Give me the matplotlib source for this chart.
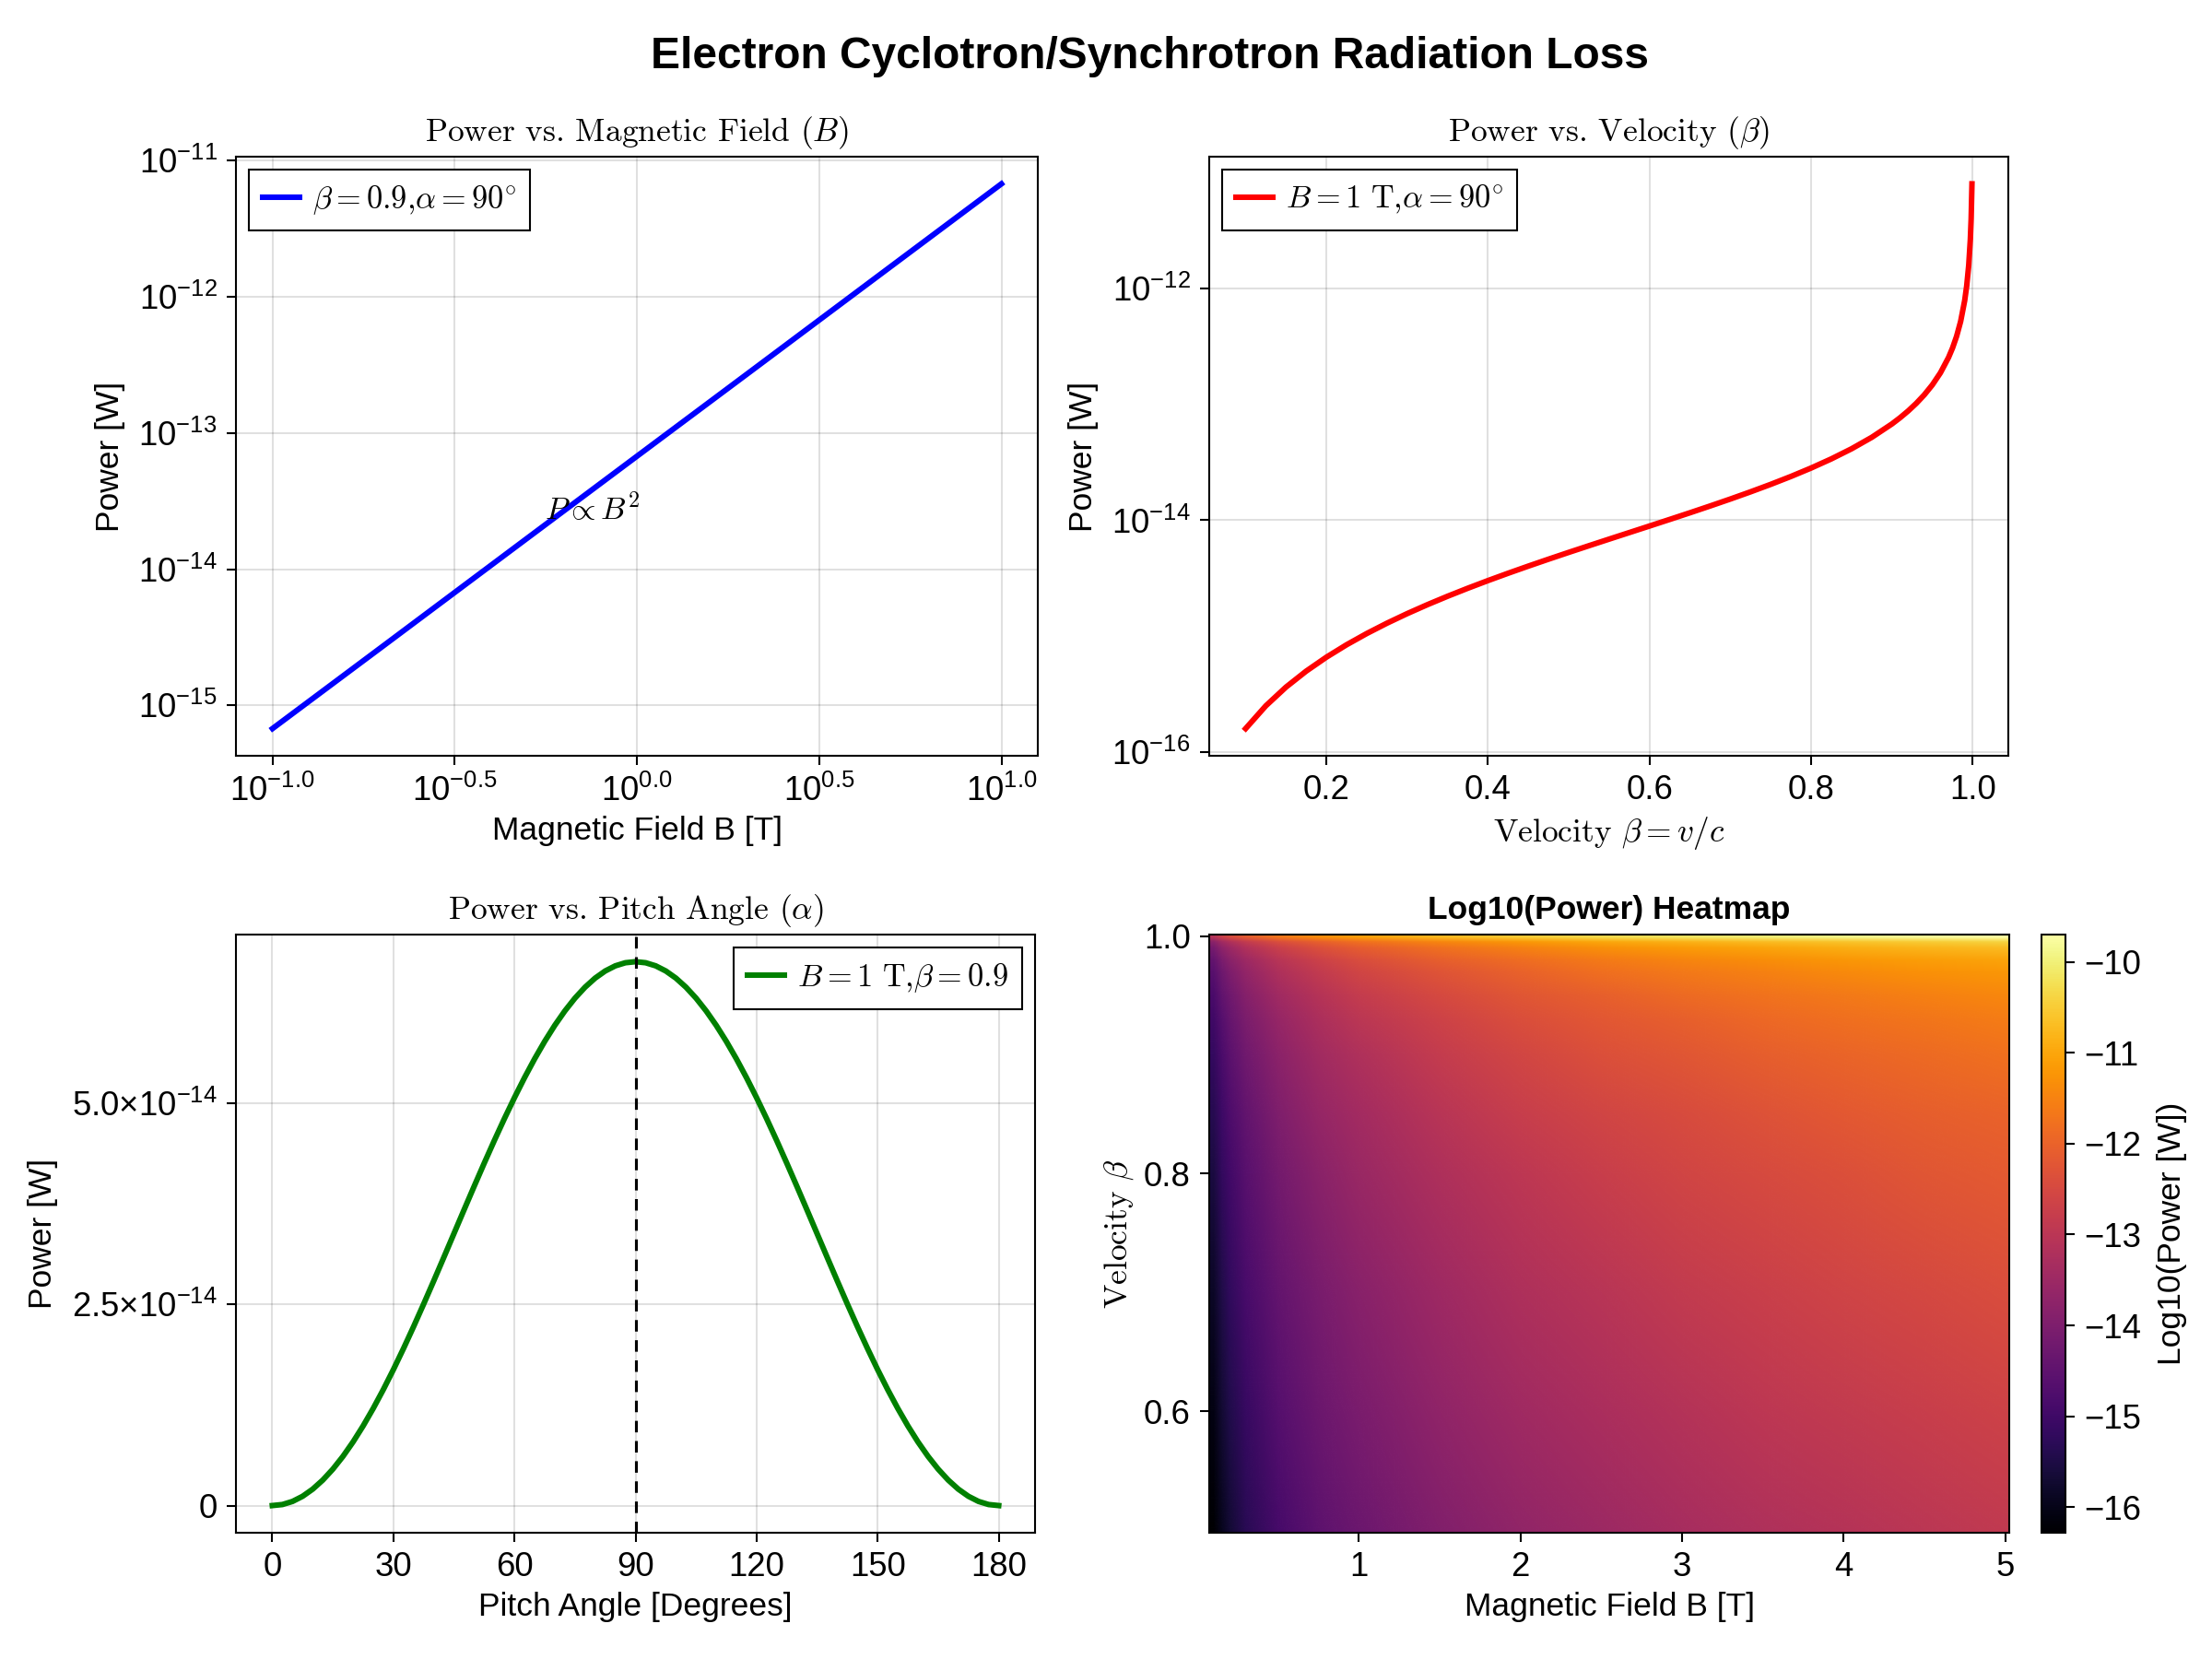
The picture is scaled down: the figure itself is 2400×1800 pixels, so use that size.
import numpy as np
import matplotlib
matplotlib.use('Agg')
import matplotlib.pyplot as plt
from matplotlib.font_manager import FontProperties
from matplotlib.image import NonUniformImage
from matplotlib.colors import Normalize
from matplotlib.ticker import FixedLocator, FixedFormatter, NullLocator

plt.rcParams['font.family'] = ['Liberation Sans', 'DejaVu Sans']
plt.rcParams['mathtext.fontset'] = 'custom'
plt.rcParams['mathtext.rm'] = 'Liberation Sans'
plt.rcParams['mathtext.it'] = 'Liberation Sans:italic'
plt.rcParams['mathtext.bf'] = 'Liberation Sans:bold'
plt.rcParams['mathtext.sf'] = 'Liberation Sans'

# --- power vs magnetic field (beta=0.9, alpha=90)
field_b = [0.1, 0.2, 0.5, 1.0, 2.0, 5.0, 10.0]
power_b = [6.76e-16, 2.70e-15, 1.69e-14, 6.76e-14, 2.70e-13, 1.69e-12, 6.76e-12]

# --- power vs velocity (B=1 T, alpha=90)
beta_v = [0.1, 0.125, 0.15, 0.175, 0.2, 0.225, 0.25, 0.275, 0.3, 0.325, 0.35, 0.375,
          0.4, 0.425, 0.45, 0.475, 0.5, 0.525, 0.55, 0.575, 0.6, 0.625, 0.65, 0.675,
          0.7, 0.725, 0.75, 0.775, 0.8, 0.825, 0.85, 0.875, 0.9, 0.91, 0.92, 0.93,
          0.94, 0.95, 0.96, 0.97, 0.975, 0.98, 0.985, 0.99, 0.9925, 0.995, 0.997,
          0.998, 0.999]
power_v = [1.602e-16, 2.517e-16, 3.651e-16, 5.011e-16, 6.608e-16, 8.457e-16, 1.0573e-15,
           1.2975e-15, 1.5686e-15, 1.8731e-15, 2.2141e-15, 2.5953e-15, 3.0210e-15,
           3.4962e-15, 4.0271e-15, 4.6210e-15, 5.2867e-15, 6.0347e-15, 6.8784e-15,
           7.8337e-15, 8.9213e-15, 1.0167e-14, 1.1603e-14, 1.3274e-14, 1.5238e-14,
           1.7573e-14, 2.0391e-14, 2.3852e-14, 2.8196e-14, 3.3800e-14, 4.1293e-14,
           5.1809e-14, 6.7614e-14, 7.6403e-14, 8.7395e-14, 1.0153e-13, 1.2039e-13,
           1.4681e-13, 1.8644e-13, 2.5250e-13, 3.0536e-13, 3.8465e-13, 5.1680e-13,
           7.8113e-13, 1.0454e-12, 1.5741e-12, 2.6314e-12, 3.9531e-12, 7.9181e-12]

# --- power vs pitch angle (B=1 T, beta=0.9)
pitch_deg = [0, 2.5, 5, 7.5, 10, 12.5, 15, 17.5, 20, 22.5, 25, 27.5, 30, 32.5, 35, 37.5,
             40, 42.5, 45, 47.5, 50, 52.5, 55, 57.5, 60, 62.5, 65, 67.5, 70, 72.5, 75,
             77.5, 80, 82.5, 85, 87.5, 90, 92.5, 95, 97.5, 100, 102.5, 105, 107.5, 110,
             112.5, 115, 117.5, 120, 122.5, 125, 127.5, 130, 132.5, 135, 137.5, 140,
             142.5, 145, 147.5, 150, 152.5, 155, 157.5, 160, 162.5, 165, 167.5, 170,
             172.5, 175, 177.5, 180]
power_a = [0.0, 1.286e-16, 5.135e-16, 1.152e-15, 2.038e-15, 3.167e-15, 4.528e-15,
           6.113e-15, 7.908e-15, 9.900e-15, 1.2074e-14, 1.4413e-14, 1.690e-14,
           1.9516e-14, 2.2240e-14, 2.5052e-14, 2.7931e-14, 3.0854e-14, 3.380e-14,
           3.6746e-14, 3.9669e-14, 4.2548e-14, 4.5360e-14, 4.8084e-14, 5.070e-14,
           5.3187e-14, 5.5526e-14, 5.7700e-14, 5.9692e-14, 6.1487e-14, 6.3072e-14,
           6.4433e-14, 6.5562e-14, 6.6448e-14, 6.7087e-14, 6.7471e-14, 6.760e-14,
           6.7471e-14, 6.7087e-14, 6.6448e-14, 6.5562e-14, 6.4433e-14, 6.3072e-14,
           6.1487e-14, 5.9692e-14, 5.7700e-14, 5.5526e-14, 5.3187e-14, 5.070e-14,
           4.8084e-14, 4.5360e-14, 4.2548e-14, 3.9669e-14, 3.6746e-14, 3.380e-14,
           3.0854e-14, 2.7931e-14, 2.5052e-14, 2.2240e-14, 1.9516e-14, 1.690e-14,
           1.4413e-14, 1.2074e-14, 9.900e-15, 7.908e-15, 6.113e-15, 4.528e-15,
           3.167e-15, 2.038e-15, 1.152e-15, 5.135e-16, 1.286e-16, 0.0]

# --- heatmap log10(power) (rows: beta, cols: B)
heat_b = [0.1, 0.15, 0.2, 0.3, 0.5, 0.75, 1.0, 1.5, 2.0, 2.5, 3.0, 3.5, 4.0, 4.5, 5.0]
heat_beta = [0.5, 0.6, 0.7, 0.8, 0.85, 0.9, 0.93, 0.95, 0.97, 0.98, 0.99, 0.995, 0.999]
heat_logp = [
    [-16.28, -15.93, -15.68, -15.32, -14.88, -14.53, -14.28, -13.93, -13.68, -13.48, -13.32, -13.19, -13.07, -12.97, -12.88],
    [-16.05, -15.70, -15.45, -15.10, -14.65, -14.30, -14.05, -13.70, -13.45, -13.25, -13.10, -12.96, -12.85, -12.74, -12.65],
    [-15.82, -15.47, -15.22, -14.86, -14.42, -14.07, -13.82, -13.47, -13.22, -13.02, -12.86, -12.73, -12.61, -12.51, -12.42],
    [-15.55, -15.20, -14.95, -14.60, -14.15, -13.80, -13.55, -13.20, -12.95, -12.75, -12.60, -12.46, -12.35, -12.24, -12.15],
    [-15.38, -15.03, -14.78, -14.43, -13.99, -13.63, -13.38, -13.03, -12.78, -12.59, -12.43, -12.30, -12.18, -12.08, -11.99],
    [-15.17, -14.82, -14.57, -14.22, -13.77, -13.42, -13.17, -12.82, -12.57, -12.37, -12.22, -12.08, -11.97, -11.86, -11.77],
    [-14.99, -14.64, -14.39, -14.04, -13.60, -13.24, -12.99, -12.64, -12.39, -12.20, -12.04, -11.91, -11.79, -11.69, -11.60],
    [-14.83, -14.48, -14.23, -13.88, -13.44, -13.08, -12.83, -12.48, -12.23, -12.04, -11.88, -11.75, -11.63, -11.53, -11.44],
    [-14.60, -14.25, -14.00, -13.64, -13.20, -12.85, -12.60, -12.25, -12.00, -11.80, -11.64, -11.51, -11.39, -11.29, -11.20],
    [-14.42, -14.06, -13.81, -13.46, -13.02, -12.67, -12.42, -12.06, -11.81, -11.62, -11.46, -11.33, -11.21, -11.11, -11.02],
    [-14.11, -13.76, -13.51, -13.15, -12.71, -12.36, -12.11, -11.76, -11.51, -11.31, -11.15, -11.02, -10.90, -10.80, -10.71],
    [-13.80, -13.45, -13.20, -12.85, -12.41, -12.05, -11.80, -11.45, -11.20, -11.01, -10.85, -10.72, -10.60, -10.50, -10.41],
    [-13.10, -12.75, -12.50, -12.15, -11.70, -11.35, -11.10, -10.75, -10.50, -10.31, -10.15, -10.01, -9.90, -9.80, -9.70],
]

TICK = 17.5
LAB = 17
SERIF = dict(fontfamily='cmr10', math_fontfamily='cm')
legend_font = FontProperties(size=16.5, math_fontfamily='cm')


def style(ax):
    ax.grid(True, color='black', alpha=0.12, linewidth=1.0)
    ax.set_axisbelow(True)
    for sp in ax.spines.values():
        sp.set_linewidth(1.0)
    ax.tick_params(direction='out', length=4.8, width=1.0, labelsize=TICK, pad=5)


def legend(ax, loc):
    leg = ax.legend(loc=loc, prop=legend_font, fancybox=False, framealpha=1,
                    edgecolor='black', handlelength=1.15, handletextpad=0.4,
                    borderpad=0.45, borderaxespad=0.4)
    leg.get_frame().set_linewidth(1.0)


fig = plt.figure(figsize=(16, 12), dpi=150)

fig.text(0.52, 0.966, 'Electron Cyclotron/Synchrotron Radiation Loss',
         ha='center', va='center', fontsize=23, fontweight='bold')

# top left
ax1 = fig.add_axes([0.1067, 0.5444, 0.3625, 0.3612])
style(ax1)
ax1.plot(field_b, power_b, color='blue', linewidth=2.9,
         label=r'$\beta = 0.9{,}\alpha = 90^{\circ}$')
ax1.set_xscale('log')
ax1.set_yscale('log')
xt = [0.1, 10 ** -0.5, 1.0, 10 ** 0.5, 10.0]
ax1.xaxis.set_major_locator(FixedLocator(xt))
ax1.xaxis.set_major_formatter(FixedFormatter([r'$10^{-1.0}$', r'$10^{-0.5}$', r'$10^{0.0}$',
                                              r'$10^{0.5}$', r'$10^{1.0}$']))
yt = [1e-15, 1e-14, 1e-13, 1e-12, 1e-11]
ax1.yaxis.set_major_locator(FixedLocator(yt))
ax1.yaxis.set_major_formatter(FixedFormatter([r'$10^{-15}$', r'$10^{-14}$', r'$10^{-13}$',
                                              r'$10^{-12}$', r'$10^{-11}$']))
ax1.xaxis.set_minor_locator(NullLocator())
ax1.yaxis.set_minor_locator(NullLocator())
ax1.set_title('Power vs. Magnetic Field $(B)$', fontsize=LAB, pad=8, **SERIF)
ax1.set_xlabel('Magnetic Field B [T]', fontsize=LAB)
ax1.set_ylabel('Power [W]', fontsize=LAB, labelpad=7)
ax1.text(0.557, 2.3e-14, r'$P \propto B^2$', fontsize=16.5, math_fontfamily='cm',
         ha='left', va='baseline')
legend(ax1, 'upper left')

# top right
ax2 = fig.add_axes([0.5467, 0.5444, 0.3612, 0.3612])
style(ax2)
ax2.plot(beta_v, power_v, color='red', linewidth=2.9,
         label=r'$B = 1\ \mathrm{T}{,}\alpha = 90^{\circ}$')
ax2.set_yscale('log')
ax2.yaxis.set_major_locator(FixedLocator([1e-16, 1e-14, 1e-12]))
ax2.yaxis.set_major_formatter(FixedFormatter([r'$10^{-16}$', r'$10^{-14}$', r'$10^{-12}$']))
ax2.yaxis.set_minor_locator(NullLocator())
ax2.set_xticks([0.2, 0.4, 0.6, 0.8, 1.0])
ax2.set_xticklabels(['0.2', '0.4', '0.6', '0.8', '1.0'])
ax2.set_title(r'Power vs. Velocity $(\beta)$', fontsize=LAB, pad=8, **SERIF)
ax2.set_xlabel(r'Velocity $\beta = v/c$', fontsize=LAB, **SERIF)
ax2.set_ylabel('Power [W]', fontsize=LAB, labelpad=7)
legend(ax2, 'upper left')

# bottom left
ax3 = fig.add_axes([0.1067, 0.0761, 0.3612, 0.3606])
style(ax3)
ax3.plot(pitch_deg, power_a, color='green', linewidth=2.9,
         label=r'$B = 1\ \mathrm{T}{,}\beta = 0.9$')
ax3.axvline(90, color='black', linestyle='--', linewidth=1.5, dashes=(4, 3))
ax3.set_xticks([0, 30, 60, 90, 120, 150, 180])
ax3.set_yticks([0, 2.5e-14, 5e-14])
ax3.set_yticklabels(['0', r'$2.5{\times}10^{-14}$', r'$5.0{\times}10^{-14}$'])
ax3.set_title(r'Power vs. Pitch Angle $(\alpha)$', fontsize=LAB, pad=8, **SERIF)
ax3.set_xlabel('Pitch Angle [Degrees]', fontsize=LAB)
ax3.set_ylabel('Power [W]', fontsize=LAB, labelpad=7)
legend(ax3, 'upper right')

# bottom right heatmap
ax4 = fig.add_axes([0.5467, 0.0761, 0.3617, 0.3606])
style(ax4)
ax4.grid(False)
norm = Normalize(vmin=-16.28, vmax=-9.70)
im = NonUniformImage(ax4, interpolation='bilinear', cmap='inferno', norm=norm,
                     extent=(0.075, 5.025, 0.4975, 1.0015))
im.set_data(np.array(heat_b), np.array(heat_beta), np.array(heat_logp))
ax4.add_image(im)
ax4.set_xlim(0.075, 5.025)
ax4.set_ylim(0.4975, 1.0015)
ax4.set_xticks([1, 2, 3, 4, 5])
ax4.set_yticks([0.6, 0.8, 1.0])
ax4.set_yticklabels(['0.6', '0.8', '1.0'])
ax4.set_title('Log10(Power) Heatmap', fontsize=LAB, fontweight='bold', pad=8)
ax4.set_xlabel('Magnetic Field B [T]', fontsize=LAB)
ax4.set_ylabel(r'Velocity $\beta$', fontsize=LAB, **SERIF)

cax = fig.add_axes([0.9229, 0.0761, 0.0108, 0.3606])
cb = fig.colorbar(im, cax=cax)
cb.set_ticks([-16, -15, -14, -13, -12, -11, -10])
cb.outline.set_linewidth(1.0)
cax.tick_params(direction='out', length=4.8, width=1.0, labelsize=TICK, pad=5)
cb.set_label('Log10(Power [W])', fontsize=LAB, labelpad=8)

fig.savefig('out.png', dpi=150)
